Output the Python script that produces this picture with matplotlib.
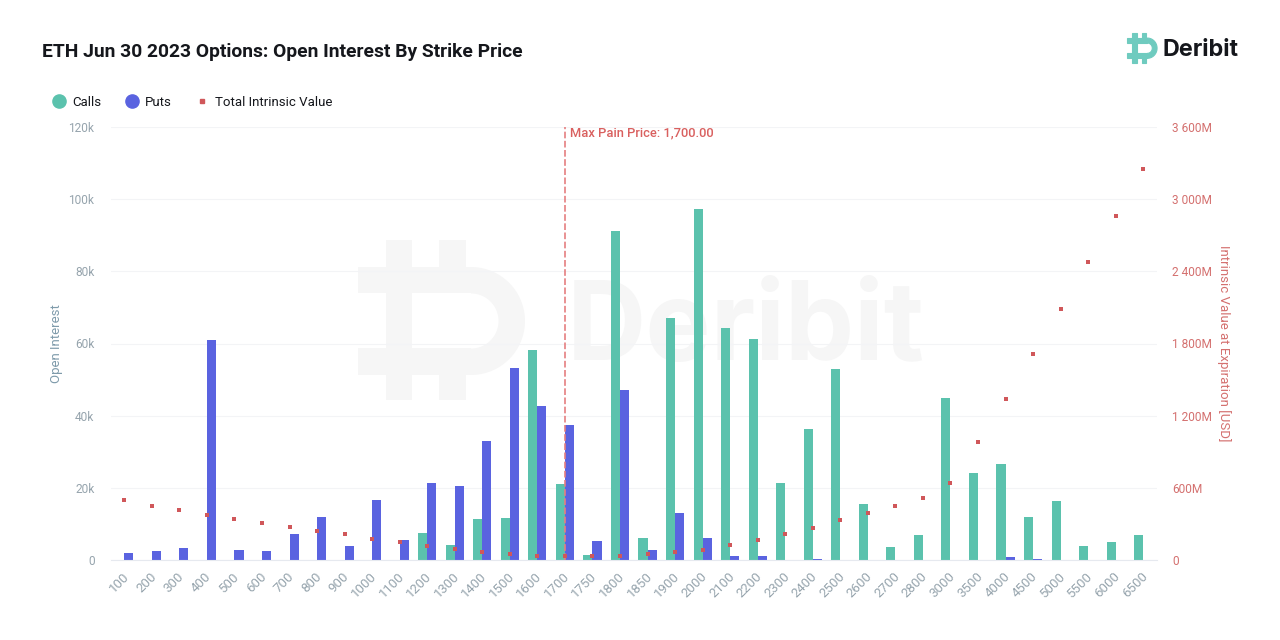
import numpy as np
import matplotlib.pyplot as plt
from matplotlib.lines import Line2D
from matplotlib.patches import Rectangle
from matplotlib.transforms import ScaledTranslation

plt.rcParams['font.family'] = ['Roboto', 'DejaVu Sans']

strikes = ['100', '200', '300', '400', '500', '600', '700', '800', '900', '1000',
           '1100', '1200', '1300', '1400', '1500', '1600', '1700', '1750', '1800',
           '1850', '1900', '2000', '2100', '2200', '2300', '2400', '2500', '2600',
           '2700', '2800', '3000', '3500', '4000', '4500', '5000', '5500', '6000', '6500']
calls = [0, 0, 0, 0, 0, 0, 0, 0, 0, 0,
         0, 7.5, 4.2, 11.3, 11.6, 58.3, 21, 1.3, 91.3,
         6.2, 67, 97.3, 64.2, 61.3, 21.3, 36.4, 53, 15.4,
         3.6, 6.9, 45, 24, 26.7, 12, 16.3, 3.9, 5.1, 6.8]
puts = [1.9, 2.4, 3.3, 61, 2.8, 2.4, 7.2, 12, 4, 16.6,
        5.6, 21.3, 20.5, 33, 53.3, 42.7, 37.3, 5.4, 47,
        2.7, 13, 6, 1.2, 1.0, 0, 0.3, 0, 0,
        0, 0, 0, 0, 0.9, 0.3, 0, 0, 0, 0]
intrinsic = [499, 451, 418, 374, 338, 310, 274, 238, 214, 177,
             152, 116, 89, 69, 50, 36, 36, 36, 36,
             47, 64, 86, 125, 169, 216, 268, 329, 390,
             451, 515, 637, 983, 1338, 1712, 2086, 2477, 2859, 3249]
oi_ticks = [0, 20, 40, 60, 80, 100, 120]
oi_labels = ['0', '20k', '40k', '60k', '80k', '100k', '120k']
value_ticks = [0, 600, 1200, 1800, 2400, 3000, 3600]
value_labels = ['0', '600M', '1 200M', '1 800M', '2 400M', '3 000M', '3 600M']
max_pain = '1700'

GREEN = '#5bc2ad'
BLUE = '#5a63e0'
RED = '#d0575a'
GREY = '#96a4ad'


def draw_logo(a, left, top, sx, sy, color, lw=0):
    # shape measured on the big watermark, box is 167 x 160 px
    boxes = [(0, 27, 113, 26), (0, 108, 113, 27), (28, 0, 26, 160), (81, 0, 27, 27), (81, 135, 27, 25)]
    for x, y, w, h in boxes:
        a.add_patch(Rectangle((left + x * sx, top + y * sy), w * sx, h * sy, fc=color, ec=color, lw=lw))
    # right side of the D, flattened to fit the box
    t = np.linspace(-np.pi / 2, np.pi / 2, 60)
    cx, cy = left + 113 * sx, top + 81 * sy
    xs = np.r_[cx + 54 * sx * np.cos(t), cx + 27.5 * sx * np.cos(t[::-1])]
    ys = np.r_[cy + 54 * sy * np.sin(t), cy + 27.5 * sy * np.sin(t[::-1])]
    a.fill(xs, ys, fc=color, ec=color, lw=lw)


fig = plt.figure(figsize=(12.8, 6.4), dpi=100, facecolor='white')

# pixel layer for the watermark and the logo
bg = fig.add_axes([0, 0, 1, 1], zorder=0)
bg.set_xlim(0, 1280)
bg.set_ylim(640, 0)
bg.axis('off')
draw_logo(bg, 358, 240, 1, 1, '#f6f6f6')
bg.text(567, 360, 'Deribit', fontsize=79, fontfamily='Inter', fontweight='bold', color='#f6f6f6', va='baseline')
draw_logo(bg, 1127, 33, 0.18, 0.1875, '#6fcbbf', lw=0.8)
bg.text(1163, 50.5, 'Deribit', fontsize=16.8, fontfamily='Inter', fontweight='bold', color='#15171c', va='center')

ax = fig.add_axes([110.5 / 1280, 80 / 640, 1046.5 / 1280, 433 / 640], zorder=1)
ax.patch.set_alpha(0)
x = np.arange(len(strikes))
w = 0.33
ax.bar(x - w / 2, calls, w, color=GREEN, zorder=2)
ax.bar(x + w / 2, puts, w, color=BLUE, zorder=2)
ax.set_xlim(-0.5, len(strikes) - 0.5)
ax.set_ylim(0, 120)
ax.set_xticks(x)
ax.set_xticklabels(strikes, rotation=45, ha='right', va='top', rotation_mode='anchor', fontsize=9.5, color=GREY)
ax.set_yticks(oi_ticks)
ax.set_yticklabels(oi_labels, fontsize=8.6, color=GREY)
ax.tick_params(axis='x', length=0, pad=7)
ax.tick_params(axis='y', length=0, pad=11.5)
for lbl in ax.get_xticklabels():
    lbl.set_transform(lbl.get_transform() + ScaledTranslation(-2 / 100, 0, fig.dpi_scale_trans))
ax.grid(axis='y', color='#f3f4f6', lw=0.8, zorder=0)
ax.set_axisbelow(True)
for s in ['top', 'right', 'left']:
    ax.spines[s].set_visible(False)
ax.spines['bottom'].set_color('#e6e9ef')
ax.set_ylabel('Open Interest', fontsize=9.5, color='#7f9bab', labelpad=4)

pain_x = strikes.index(max_pain)
ax.axvline(pain_x, color='#e57f80', lw=1.2, ls=(0, (4, 1.5)), zorder=3)
ax.annotate('Max Pain Price: 1,700.00', (pain_x, 120), xytext=(4, -4.5), textcoords='offset points',
            fontsize=9.25, fontweight='medium', color='#d9605f', va='center')

ax2 = ax.twinx()
ax2.set_zorder(2)
ax2.scatter(x, intrinsic, marker='s', s=10, color=RED, lw=0, zorder=4)
ax2.set_ylim(0, 3600)
ax2.set_yticks(value_ticks)
ax2.set_yticklabels(value_labels, fontsize=8.6, color='#d4706f')
ax2.tick_params(axis='y', length=0, pad=10.8)
for s in ax2.spines.values():
    s.set_visible(False)
ax2.set_ylabel('Intrinsic Value at Expiration [USD]', rotation=270, fontsize=9.5, color='#d4706f', labelpad=14)

handles = [Line2D([], [], marker='o', ls='', ms=9.5, color=GREEN),
           Line2D([], [], marker='o', ls='', ms=9.5, color=BLUE),
           Line2D([], [], marker='s', ls='', ms=3, color=RED)]
fig.legend(handles, ['Calls', 'Puts', 'Total Intrinsic Value'], ncols=3, loc='center left',
           bbox_to_anchor=(34 / 1280, 1 - 102 / 640), frameon=False, fontsize=9.5,
           handletextpad=0, columnspacing=1.3, labelcolor='#15171c')

fig.text(42 / 1280, 1 - 52 / 640, 'ETH Jun 30 2023 Options: Open Interest By Strike Price',
         fontsize=13.85, fontweight='bold', color='#15171c', va='center')

fig.savefig('out.png', dpi=100)
